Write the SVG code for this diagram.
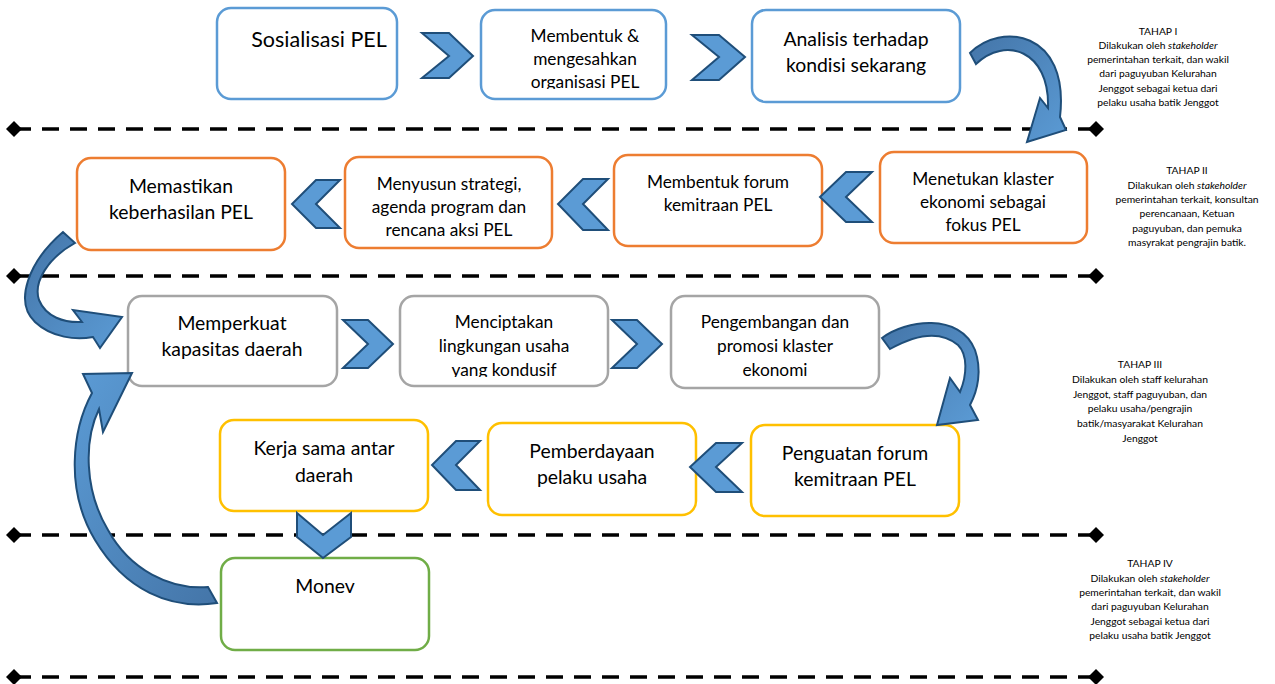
<svg xmlns="http://www.w3.org/2000/svg" width="1275" height="684" viewBox="0 0 1275 684">
<style>
.box{fill:#fff;stroke-width:2.5}
.b{stroke:#5B9BD5}.o{stroke:#ED7D31}.g{stroke:#A5A5A5}.y{stroke:#FFC000}.gr{stroke:#70AD47}
.t{font-family:Lato,"Liberation Sans",sans-serif;fill:#000;text-anchor:middle}
.t18{font-size:19.4px}.t16{font-size:17.3px}.t21{font-size:21.5px}
.note{font-family:Lato,"Liberation Sans",sans-serif;font-size:10.3px;fill:#000;text-anchor:middle}
.chev{fill:#5B9BD5;stroke:#1F4E79;stroke-width:2;stroke-linejoin:miter}
.curve{stroke:#1F4E79;stroke-width:2;stroke-linejoin:miter}
.dash{stroke:#000;stroke-width:3.5;stroke-dasharray:17 11}
</style>
<defs>
<linearGradient id="gA" x1="0" y1="0" x2="1" y2="1"><stop offset="0" stop-color="#4475A8"/><stop offset="1" stop-color="#5B9BD5"/></linearGradient>
<linearGradient id="gB" x1="1" y1="1" x2="0" y2="0"><stop offset="0" stop-color="#4475A8"/><stop offset="1" stop-color="#5B9BD5"/></linearGradient>
<clipPath id="c2"><rect x="481" y="10" width="185" height="79"/></clipPath>
<clipPath id="c6"><rect x="400" y="296" width="208" height="81"/></clipPath>
</defs>

<g id="separators">
<line class="dash" x1="14" y1="129" x2="1096" y2="129"/>
<line class="dash" x1="14" y1="276" x2="1096" y2="276"/>
<line class="dash" x1="14" y1="535" x2="1096" y2="535"/>
<line class="dash" x1="14" y1="677" x2="1096" y2="677"/>
<polygon points="6,129 14,121 22,129 14,137"/><polygon points="1088,129 1096,121 1104,129 1096,137"/>
<polygon points="6,276 14,268 22,276 14,284"/><polygon points="1088,276 1096,268 1104,276 1096,284"/>
<polygon points="6,535 14,527 22,535 14,543"/><polygon points="1088,535 1096,527 1104,535 1096,543"/>
<polygon points="6,677 14,669 22,677 14,685"/><polygon points="1088,677 1096,669 1104,677 1096,685"/>
</g>

<g id="n1"><rect class="box b" x="217" y="8" width="180" height="91" rx="14"/>
<text class="t t21" x="319" y="47">Sosialisasi PEL</text></g>
<g id="n2"><rect class="box b" x="481" y="10" width="185" height="89" rx="14"/>
<text class="t t16" x="585" y="42" clip-path="url(#c2)">Membentuk &amp;<tspan x="585" y="65">mengesahkan</tspan><tspan x="585" y="88">organisasi PEL</tspan></text></g>
<g id="n3"><rect class="box b" x="752" y="10" width="208" height="92" rx="14"/>
<text class="t t18" x="856" y="46">Analisis terhadap</text><text class="t t18" x="856" y="72">kondisi sekarang</text></g>

<g id="n4"><rect class="box o" x="880" y="152" width="207" height="91" rx="14"/>
<text class="t t16" x="983" y="185">Menetukan klaster</text><text class="t t16" x="983" y="208">ekonomi sebagai</text><text class="t t16" x="983" y="231">fokus PEL</text></g>
<g id="n5"><rect class="box o" x="614" y="155" width="208" height="91" rx="14"/>
<text class="t t16" x="718" y="188">Membentuk forum</text><text class="t t16" x="718" y="211">kemitraan PEL</text></g>
<g id="n6"><rect class="box o" x="345" y="157" width="207" height="91" rx="14"/>
<text class="t t16" x="449" y="190">Menyusun strategi,</text><text class="t t16" x="449" y="213">agenda program dan</text><text class="t t16" x="449" y="236">rencana aksi PEL</text></g>
<g id="n7"><rect class="box o" x="77" y="158" width="208" height="92" rx="14"/>
<text class="t t18" x="181" y="193">Memastikan</text><text class="t t18" x="181" y="219">keberhasilan PEL</text></g>

<g id="n8"><rect class="box g" x="128" y="296" width="209" height="90" rx="14"/>
<text class="t t18" x="232" y="330">Memperkuat</text><text class="t t18" x="232" y="356">kapasitas daerah</text></g>
<g id="n9"><rect class="box g" x="400" y="296" width="208" height="90" rx="14"/>
<text class="t t16" x="504" y="328" clip-path="url(#c6)">Menciptakan<tspan x="504" y="352">lingkungan usaha</tspan><tspan x="504" y="376">yang kondusif</tspan></text></g>
<g id="n10"><rect class="box g" x="671" y="296" width="208" height="92" rx="14"/>
<text class="t t16" x="775" y="328">Pengembangan dan</text><text class="t t16" x="775" y="352">promosi klaster</text><text class="t t16" x="775" y="376">ekonomi</text></g>

<g id="n11"><rect class="box y" x="751" y="425" width="208" height="91" rx="14"/>
<text class="t t18" x="855" y="460">Penguatan forum</text><text class="t t18" x="855" y="486">kemitraan PEL</text></g>
<g id="n12"><rect class="box y" x="488" y="423" width="208" height="92" rx="14"/>
<text class="t t18" x="592" y="458">Pemberdayaan</text><text class="t t18" x="592" y="484">pelaku usaha</text></g>
<g id="n13"><rect class="box y" x="220" y="420" width="208" height="91" rx="14"/>
<text class="t t18" x="324" y="455">Kerja sama antar</text><text class="t t18" x="324" y="482">daerah</text></g>

<g id="n14"><rect class="box gr" x="221" y="558" width="208" height="92" rx="14"/>
<text class="t t18" x="325" y="593">Monev</text></g>

<g id="notes">
<text class="note" x="1158" y="35">TAHAP I</text>
<text class="note" x="1158" y="49">Dilakukan oleh <tspan font-style="italic">stakeholder</tspan></text>
<text class="note" x="1158" y="63">pemerintahan terkait, dan wakil</text>
<text class="note" x="1158" y="77">dari paguyuban Kelurahan</text>
<text class="note" x="1158" y="92">Jenggot sebagai ketua dari</text>
<text class="note" x="1158" y="106">pelaku usaha batik Jenggot</text>

<text class="note" x="1187" y="174">TAHAP II</text>
<text class="note" x="1187" y="189">Dilakukan oleh <tspan font-style="italic">stakeholder</tspan></text>
<text class="note" x="1187" y="203">pemerintahan terkait, konsultan</text>
<text class="note" x="1187" y="217">perencanaan, Ketuan</text>
<text class="note" x="1187" y="232">paguyuban, dan pemuka</text>
<text class="note" x="1187" y="246">masyrakat pengrajin batik.</text>

<text class="note" x="1140" y="368">TAHAP III</text>
<text class="note" x="1140" y="383">Dilakukan oleh staff kelurahan</text>
<text class="note" x="1140" y="398">Jenggot, staff paguyuban, dan</text>
<text class="note" x="1140" y="412">pelaku usaha/pengrajin</text>
<text class="note" x="1140" y="427">batik/masyarakat Kelurahan</text>
<text class="note" x="1140" y="442">Jenggot</text>

<text class="note" x="1150" y="567">TAHAP IV</text>
<text class="note" x="1150" y="582">Dilakukan oleh <tspan font-style="italic">stakeholder</tspan></text>
<text class="note" x="1150" y="596">pemerintahan terkait, dan wakil</text>
<text class="note" x="1150" y="610">dari paguyuban Kelurahan</text>
<text class="note" x="1150" y="625">Jenggot sebagai ketua dari</text>
<text class="note" x="1150" y="639">pelaku usaha batik Jenggot</text>
</g>

<g id="connectors">
<polygon class="chev" points="422,33 449,33 473,56 449,78 422,78 449,56"/>
<polygon class="chev" points="692,35 719,35 745,57 719,80 692,80 719,57"/>
<polygon class="chev" points="872,172 846,172 820,197 846,222 872,222 846,197"/>
<polygon class="chev" points="608,179 583,179 558,204 583,230 608,230 583,204"/>
<polygon class="chev" points="340,180 316,180 292,204 316,228 340,228 316,204"/>
<polygon class="chev" points="343,320 368,320 393,344 368,368 343,368 368,344"/>
<polygon class="chev" points="612,320 637,320 662,344 637,368 612,368 637,344"/>
<polygon class="chev" points="742,443 716,443 690,467 716,492 742,492 716,467"/>
<polygon class="chev" points="480,441 456,441 432,465 456,490 480,490 456,465"/>
<polygon class="chev" points="297,513 323,535 351,513 351,537 323,558 297,537"/>

<path class="curve" fill="url(#gA)" d="M970,53 C1000,22 1070,30 1060,117 L1066,130 L1027,142 L1040,98 L1048,108 C1050,50 1005,36 976,64 Z"/>
<path class="curve" fill="url(#gA)" d="M63,232 C28,262 14,302 35,322 C52,338 76,340 93,337 L100,348 L122,317 L73,310 L82,322 C64,323 46,317 39,300 C33,282 48,258 75,243 Z"/>
<path class="curve" fill="url(#gA)" d="M882,338 C905,320 960,312 975,350 C982,370 978,390 970,405 L978,420 L937,425 L950,378 L960,392 C967,375 968,355 958,345 C940,330 915,335 890,349 Z"/>
<path class="curve" fill="url(#gB)" d="M92,393 C72,430 65,490 95,540 C125,590 170,610 217,603 L208,587 C170,590 130,570 108,530 C84,490 84,440 99,409 L103,432 L132,373 L83,374 Z"/>
</g>
</svg>
